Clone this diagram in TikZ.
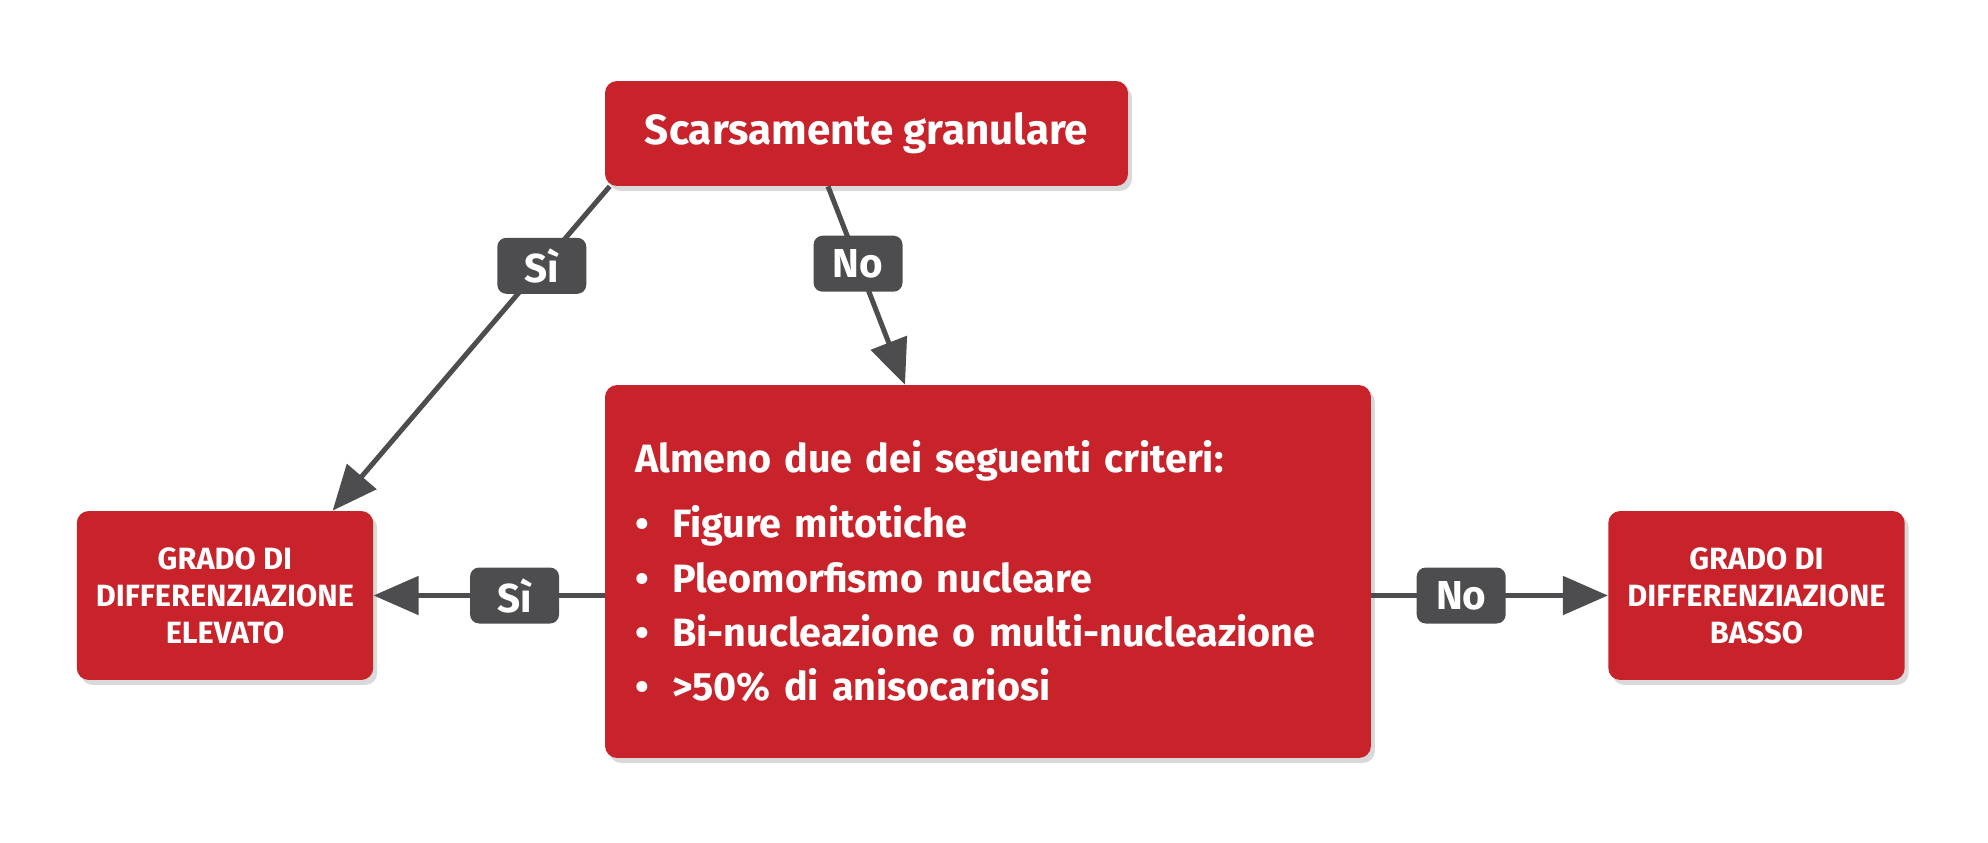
\documentclass[tikz,border=0pt]{standalone}
\usepackage{fontspec}
\setmainfont{Fira Sans}
\usetikzlibrary{arrows.meta,shadows}
\definecolor{boxred}{HTML}{C8222B}
\definecolor{tagGray}{HTML}{4D4D4F}
\tikzset{
    redbox/.style={fill=boxred, rounded corners=0.24cm, text=white, align=center,
        drop shadow={opacity=0.3, shadow xshift=0.08cm, shadow yshift=-0.1cm}},
    gradebox/.style={redbox, minimum width=5.93cm, minimum height=3.38cm,
        font=\bfseries\fontsize{17.5}{21}\selectfont},
    tag/.style={fill=tagGray, rounded corners=0.18cm, text=white, inner sep=0pt,
        minimum width=1.78cm, minimum height=1.12cm,
        font=\bfseries\fontsize{23}{26}\selectfont},
    flow/.style={draw=tagGray, line width=0.1cm, -{Triangle[length=0.9cm,width=0.76cm]}},
}
\begin{document}
\begin{tikzpicture}
[
    x=0.02cm, y=-0.02cm,
]
\useasboundingbox (0,0) rectangle (1988,842);

\node[redbox, minimum width=10.46cm, minimum height=2.1cm,
    font=\bfseries\fontsize{24}{28}\selectfont] (scar) at (866.5,133.5) {Scarsamente granulare};
\node[redbox, align=left, text width=14.12cm, inner xsep=0.6cm, minimum height=7.46cm,
    font=\bfseries\fontsize{22.5}{31}\selectfont] (crit) at (988,571.5)
    {Almeno due dei seguenti criteri:\\[6pt]
     \makebox[0.74cm][l]{•}Figure mitotiche\\
     \makebox[0.74cm][l]{•}Pleomorfismo nucleare\\
     \makebox[0.74cm][l]{•}Bi-nucleazione o multi-nucleazione\\
     \makebox[0.74cm][l]{•}>50\% di anisocariosi};
\node[gradebox] (high) at (225,595.5) {GRADO DI\\DIFFERENZIAZIONE\\ELEVATO};
\node[gradebox] (low) at (1756.5,595.5) {GRADO DI\\DIFFERENZIAZIONE\\BASSO};

% connectors
\draw[flow] ([xshift=0.1cm]scar.south west) -- node[tag, pos=0.245] (si1) {Sì} ([xshift=-0.82cm]high.north east);
\draw[flow] ([xshift=-0.77cm]scar.south) -- node[tag, pos=0.39] (no1) {No} ([xshift=-1.66cm]crit.north);
\draw[flow] (crit.west |- high.east) -- node[tag, pos=0.39] (si2) {Sì} (high.east);
\draw[flow] (crit.east |- low.west) -- node[tag, pos=0.38] (no2) {No} (low.west);
\end{tikzpicture}
\end{document}
